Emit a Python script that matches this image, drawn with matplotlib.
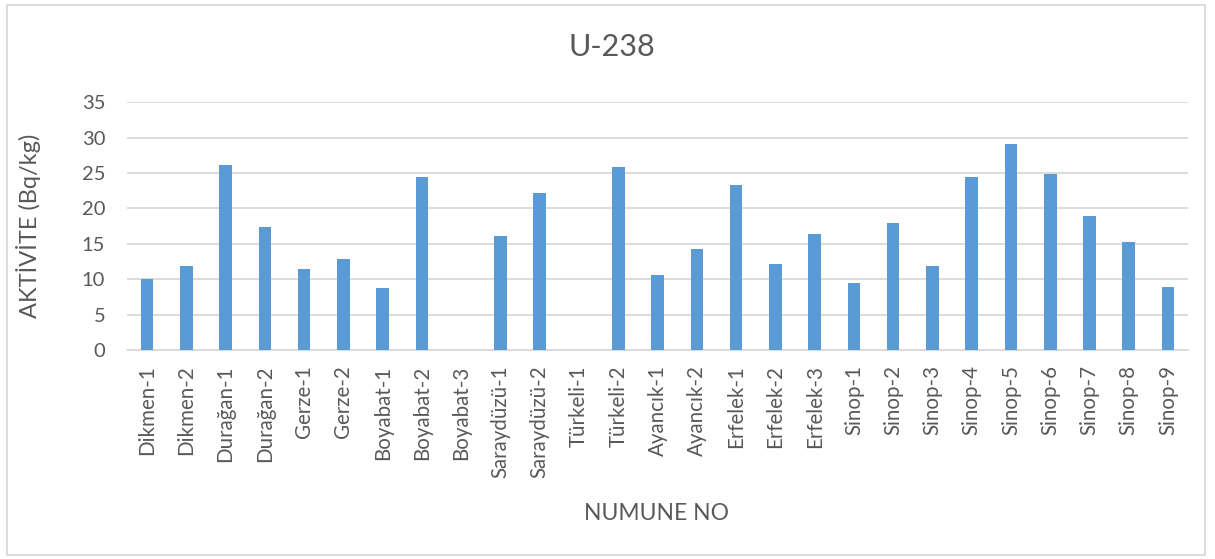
import matplotlib
matplotlib.use("Agg")
import matplotlib.pyplot as plt
from matplotlib.patches import Rectangle

categories = ["Dikmen-1", "Dikmen-2", "Durağan-1", "Durağan-2", "Gerze-1", "Gerze-2",
              "Boyabat-1", "Boyabat-2", "Boyabat-3", "Saraydüzü-1", "Saraydüzü-2",
              "Türkeli-1", "Türkeli-2", "Ayancık-1", "Ayancık-2", "Erfelek-1", "Erfelek-2",
              "Erfelek-3", "Sinop-1", "Sinop-2", "Sinop-3", "Sinop-4", "Sinop-5", "Sinop-6",
              "Sinop-7", "Sinop-8", "Sinop-9"]
values = [10.0, 11.9, 26.2, 17.4, 11.5, 12.9, 8.8, 24.4, 0.0, 16.1, 22.2,
          0.0, 25.9, 10.6, 14.3, 23.3, 12.2, 16.4, 9.4, 18.0, 11.9, 24.4, 29.1, 24.8,
          19.0, 15.2, 8.9]
yticks = [0, 5, 10, 15, 20, 25, 30, 35]

plt.rcParams['font.family'] = ['Lato', 'DejaVu Sans']
text_color = '#595959'

fig = plt.figure(figsize=(12.15, 5.59), dpi=100)
ax = fig.add_axes([0.1049, 0.3739, 0.8726, 0.4431])

x = list(range(len(categories)))
ax.bar(x, values, width=0.32, color='#5B9BD5', zorder=3)
ax.set_xlim(-0.5, len(categories) - 0.5)
ax.set_ylim(0, 35)
ax.set_yticks(yticks)
ax.set_xticks(x)
ax.set_xticklabels(categories, rotation=90, fontsize=14.8, color=text_color)
ax.tick_params(axis='y', labelsize=14.5, labelcolor=text_color, length=0, pad=16)
ax.tick_params(axis='x', length=0, pad=11)
ax.grid(axis='y', color='#D9D9D9', linewidth=1.3, zorder=0)
for s in ['top', 'right', 'left']:
    ax.spines[s].set_visible(False)
ax.spines['bottom'].set_color('#D9D9D9')
ax.spines['bottom'].set_linewidth(1.3)

ax.set_ylabel("AKTİVİTE (Bq/kg)", fontsize=17, color=text_color)
ax.yaxis.set_label_coords(-0.082, 0.5)
fig.text(0.5405, 0.082, "NUMUNE NO", ha='center', va='center', fontsize=16.5, color=text_color)
fig.text(0.504, 0.916, "U-238", ha='center', va='center', fontsize=22, color=text_color)

fig.patches.append(Rectangle((7 / 1215, 4 / 559), 1198 / 1215, 550 / 559,
                             transform=fig.transFigure, fill=False,
                             edgecolor='#D9D9D9', linewidth=1.3))

fig.savefig("out.png", dpi=100)
